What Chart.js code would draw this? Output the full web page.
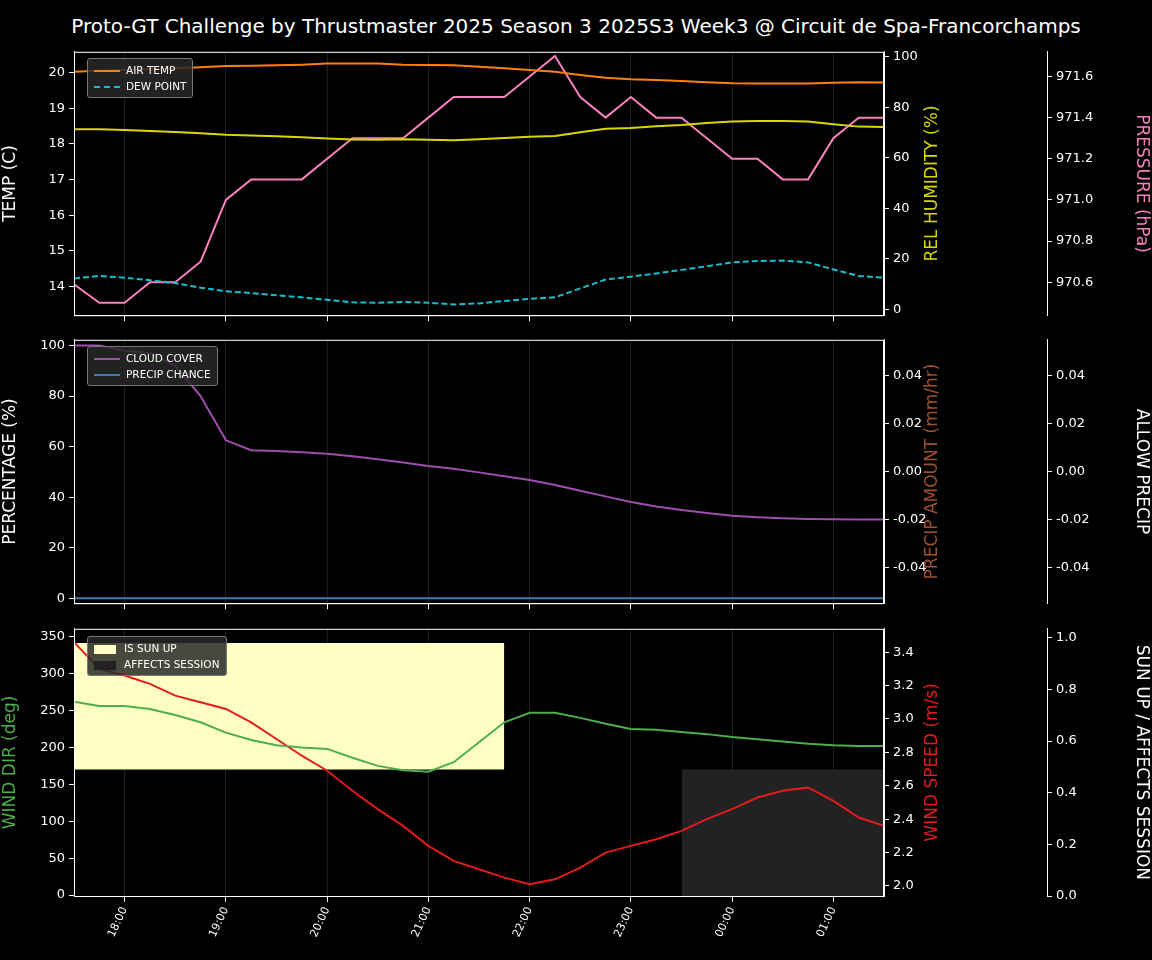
<!DOCTYPE html>
<html><head><meta charset="utf-8">
<script src="https://cdn.jsdelivr.net/npm/chart.js@4.4.1/dist/chart.umd.min.js"></script>
<style>
body{margin:0;background:#000;width:1152px;height:960px;overflow:hidden;font-family:"DejaVu Sans",sans-serif;}
#title{position:absolute;top:14px;left:0;width:1152px;text-align:center;color:#fff;font-size:20px;}
canvas{position:absolute;left:0;}
.leg{position:absolute;left:87px;background:rgba(40,40,40,0.85);border:1px solid #777;border-radius:3px;padding:3px 6px;color:#fff;font-size:10.5px;line-height:16px;}
.leg span.l{display:inline-block;width:26px;height:0;vertical-align:middle;margin-right:6px;}
.leg span.b{display:inline-block;width:22px;height:9px;vertical-align:middle;margin-right:8px;}
</style></head><body>
<div id="title">Proto-GT Challenge by Thrustmaster 2025 Season 3 2025S3 Week3 @ Circuit de Spa-Francorchamps</div>
<canvas id="c1" width="1152" height="287" style="top:40px"></canvas>
<canvas id="c2" width="1152" height="287" style="top:328px"></canvas>
<canvas id="c3" width="1152" height="343" style="top:617px"></canvas>
<div class="leg" style="top:58px"><div><span class="l" style="border-top:2px solid #ff7f0e"></span>AIR TEMP</div><div><span class="l" style="border-top:2px dashed #17becf"></span>DEW POINT</div></div>
<div class="leg" style="top:346px"><div><span class="l" style="border-top:2px solid #a04cb0"></span>CLOUD COVER</div><div><span class="l" style="border-top:2px solid #377eb8"></span>PRECIP CHANCE</div></div>
<div class="leg" style="top:636px"><div><span class="b" style="background:#ffffc4"></span>IS SUN UP</div><div><span class="b" style="background:#222"></span>AFFECTS SESSION</div></div>
<script>
const times=["17:30","17:45","18:00","18:15","18:30","18:45","19:00","19:15","19:30","19:45","20:00","20:15","20:30","20:45","21:00","21:15","21:30","21:45","22:00","22:15","22:30","22:45","23:00","23:15","23:30","23:45","00:00","00:15","00:30","00:45","01:00","01:15","01:30"];
const hourLabels=["18:00","19:00","20:00","21:00","22:00","23:00","00:00","01:00"];
const airTemp=[20.02,20.05,20.07,20.1,20.12,20.15,20.18,20.19,20.2,20.22,20.25,20.25,20.25,20.22,20.21,20.2,20.16,20.12,20.07,20.02,19.93,19.85,19.81,19.79,19.76,19.73,19.7,19.69,19.69,19.69,19.71,19.73,19.72];
const dewPoint=[14.23,14.3,14.25,14.18,14.1,13.97,13.87,13.82,13.76,13.7,13.63,13.56,13.55,13.57,13.55,13.5,13.53,13.6,13.66,13.7,13.95,14.2,14.28,14.37,14.47,14.57,14.68,14.72,14.73,14.68,14.48,14.3,14.25];
const humidity=[71.3,71.3,71,70.6,70.2,69.7,69.1,68.8,68.5,68.1,67.6,67.2,67.1,67.3,67.1,66.9,67.3,67.8,68.3,68.6,70.1,71.5,71.8,72.4,72.9,73.7,74.3,74.5,74.5,74.3,73.2,72.3,72.2];
const pressure=[970.59,970.5,970.5,970.6,970.6,970.7,971.0,971.1,971.1,971.1,971.2,971.3,971.3,971.3,971.4,971.5,971.5,971.5,971.6,971.7,971.5,971.4,971.5,971.4,971.4,971.3,971.2,971.2,971.1,971.1,971.3,971.4,971.4];
const cloudCover=[100,100,98,97,92,80,62.5,58.6,58.3,57.8,57.2,56.2,55,53.7,52.3,51.2,49.8,48.3,46.8,44.8,42.5,40.3,38.1,36.3,34.9,33.7,32.6,32,31.6,31.3,31.2,31.1,31.1];
const precipChance=times.map(()=>0);
const windDir=[262,256,256,252,244,234,220,210,203,200,198,186,175,169,167,180,207,234,247,247,240,232,225,224,221,218,214,211,208,205,203,202,202];
const windSpeed=[3.46,3.30,3.26,3.21,3.14,3.10,3.06,2.98,2.88,2.78,2.69,2.57,2.46,2.36,2.24,2.15,2.10,2.05,2.01,2.04,2.11,2.20,2.24,2.28,2.33,2.40,2.46,2.53,2.57,2.59,2.51,2.41,2.36];
const sunUp={start:"17:30",end:"21:45"};
const affects={start:"23:30",end:"01:30"};

function hrs(t){let [h,m]=t.split(':').map(Number);if(h<12)h+=24;return h+m/60-17.5;}
const xs=times.map(hrs);
const pts=a=>a.map((v,i)=>({x:xs[i],y:v}));
Chart.defaults.color='#fff';
Chart.defaults.font.family='"DejaVu Sans",sans-serif';
Chart.defaults.font.size=13;
Chart.defaults.animation=false;

const frame={id:'frame',afterDraw(c){const a=c.chartArea,x=c.ctx;x.save();x.strokeStyle='#fff';x.lineWidth=1;x.strokeRect(a.left+0.5,a.top+0.5,a.right-a.left-1,a.bottom-a.top);x.restore();
 const o=c.options.plugins.rtitle;if(o){x.save();x.translate(933,(a.top+a.bottom)/2);x.rotate(-Math.PI/2);x.fillStyle=o.color;x.font='17px "DejaVu Sans"';x.textAlign='center';x.textBaseline='middle';x.fillText(o.text,0,0);x.restore();}}};

function xAxis(showLabels){return {type:'linear',min:0,max:8,
 afterBuildTicks:s=>{s.ticks=hourLabels.map((l,i)=>({value:i+0.5}));},
 afterFit:s=>{s.height=showLabels?64:8;},
 grid:{color:'rgba(255,255,255,0.12)',tickColor:'#fff',tickLength:6},
 border:{color:'#fff'},
 ticks:{display:showLabels,minRotation:65,maxRotation:65,font:{size:11},callback:(v,i)=>hourLabels[i]}};}
function yAxis(pos,min,max,ticks,fmt,width,title,tcolor){return {type:'linear',position:pos,min,max,
 afterBuildTicks:s=>{s.ticks=ticks.map(v=>({value:v}));},
 afterFit:s=>{s.width=width;},
 grid:{drawOnChartArea:false,tickColor:'#fff',tickLength:5},border:{color:'#fff'},
 ticks:{callback:fmt,padding:4},
 title:title?{display:true,text:title,color:tcolor,font:{size:17},padding:{top:0,bottom:4}}:{display:false}};}
const f0=v=>String(v),f1=v=>v.toFixed(1),f2=v=>v.toFixed(2);
const line=(data,color,axis,extra)=>Object.assign({data:pts(data),borderColor:color,backgroundColor:color,yAxisID:axis,borderWidth:2,pointRadius:0,tension:0,fill:false},extra||{});
const base=(scales,ds,rtitle,showX)=>({type:'line',data:{datasets:ds},plugins:[frame],
 options:{responsive:false,layout:{padding:{top:10,left:0,right:0,bottom:0}},plugins:{legend:{display:false},tooltip:{enabled:false},rtitle},
 scales:Object.assign({x:xAxis(showX)},scales)}});

new Chart(document.getElementById('c1'),base({
 y:yAxis('left',13.2,20.58,[14,15,16,17,18,19,20],f0,74,'TEMP (C)','#fff'),
 hum:yAxis('right',-2.3,101.9,[0,20,40,60,80,100],f0,163,null),
 pres:yAxis('right',970.44,971.72,[970.6,970.8,971.0,971.2,971.4,971.6],f1,105,'PRESSURE (hPa)','#f781bf')
},[line(airTemp,'#ff7f0e','y'),line(dewPoint,'#17becf','y',{borderDash:[6,3]}),line(humidity,'#d8d800','hum'),line(pressure,'#f781bf','pres')],
{text:'REL HUMIDITY (%)',color:'#d8d800'},false));

new Chart(document.getElementById('c2'),base({
 y:yAxis('left',-2,102.3,[0,20,40,60,80,100],f0,74,'PERCENTAGE (%)','#fff'),
 amt:yAxis('right',-0.055,0.055,[-0.04,-0.02,0,0.02,0.04],f2,163,null),
 allow:yAxis('right',-0.055,0.055,[-0.04,-0.02,0,0.02,0.04],f2,105,'ALLOW PRECIP','#fff')
},[line(cloudCover,'#a04cb0','y'),line(precipChance,'#377eb8','y')],
{text:'PRECIP AMOUNT (mm/hr)',color:'#a0522d'},false));

new Chart(document.getElementById('c3'),base({
 y:yAxis('left',-1.3,360.7,[0,50,100,150,200,250,300,350],f0,74,'WIND DIR (deg)','#4daf4a'),
 spd:yAxis('right',1.94,3.54,[2.0,2.2,2.4,2.6,2.8,3.0,3.2,3.4],f1,163,null),
 sun:yAxis('right',0,1.035,[0,0.2,0.4,0.6,0.8,1.0],f1,105,'SUN UP / AFFECTS SESSION','#fff')
},[
 {data:[{x:hrs(sunUp.start),y:0.98},{x:hrs(sunUp.end),y:0.98}],yAxisID:'sun',borderWidth:0,pointRadius:0,backgroundColor:'#ffffc4',borderColor:'#ffffc4',fill:{value:0.49},order:10},
 {data:[{x:hrs(affects.start),y:0.49},{x:hrs(affects.end),y:0.49}],yAxisID:'sun',borderWidth:0,pointRadius:0,backgroundColor:'#222',borderColor:'#222',fill:'origin',order:10},
 line(windDir,'#4daf4a','y'),line(windSpeed,'#e41a1c','spd')],
{text:'WIND SPEED (m/s)',color:'#e41a1c'},true));
</script></body></html>
